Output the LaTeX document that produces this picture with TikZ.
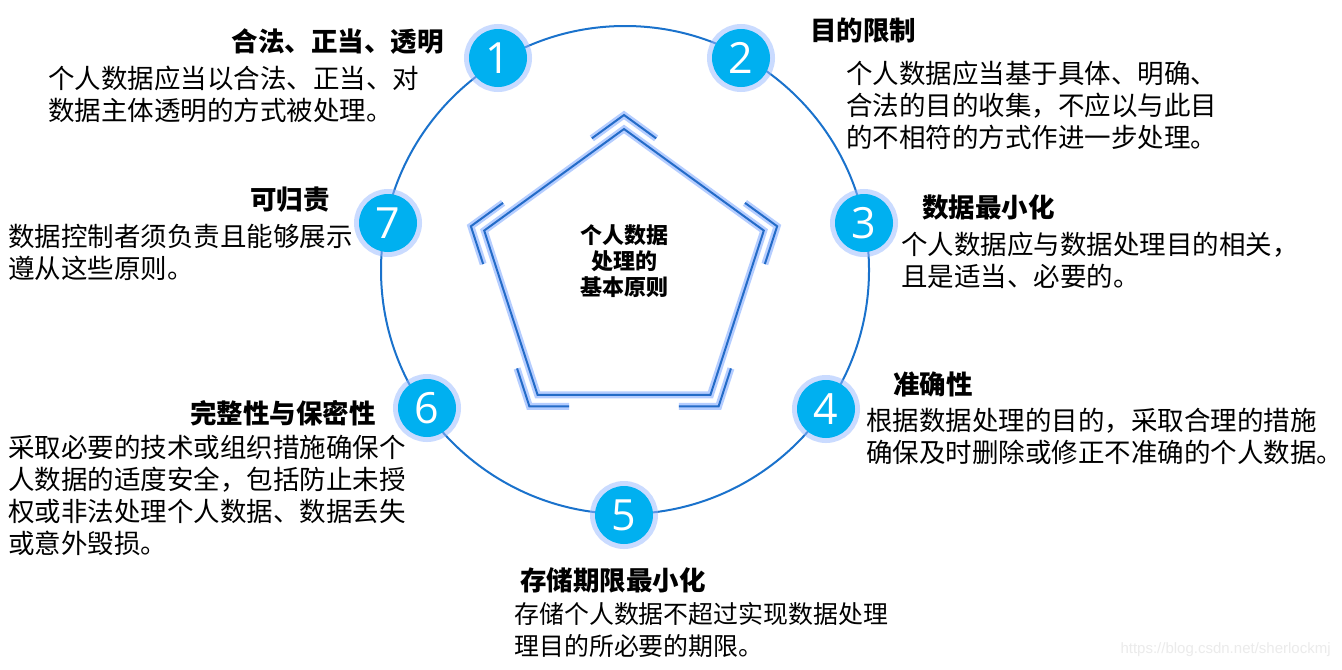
\documentclass[tikz,border=0pt]{standalone}
\usepackage{fontspec}
\setmainfont{Noto Sans CJK SC}
\newfontfamily\numfont{Open Sans}
\newfontfamily\urlfont{Liberation Sans}
\usepackage{xcolor}
\usetikzlibrary{calc}

\definecolor{RingBlue}{RGB}{26,114,204}
\definecolor{DotCyan}{RGB}{0,176,240}
\definecolor{GlowBlue}{RGB}{150,185,255}
\definecolor{PentBlue}{RGB}{36,108,200}

\begin{document}
\begin{tikzpicture}[x=0.5pt, y=-0.5pt,
    numdot/.style={circle, fill=DotCyan, minimum size=29pt, inner sep=0pt,
      text=white, font=\numfont\fontsize{21.5}{21.5}\selectfont,
      preaction={draw=GlowBlue, line width=5pt, draw opacity=0.5}},
    ttl/.style={inner sep=0pt, font=\bfseries\fontsize{13.25}{16}\selectfont},
    body/.style={inner sep=0pt, align=left, font=\fontsize{13.25}{16}\selectfont},
    pent/.style={draw=PentBlue, line width=1pt, line join=miter,
      preaction={draw=GlowBlue, line width=3.5pt, draw opacity=0.7}}]
    \fill [white] (0, 0) rectangle (1342, 669);
    \useasboundingbox (0, 0) rectangle (1342, 669);

    \begin{scope} % ring
      \draw [RingBlue, line width=1pt] (625, 270) circle (244);
    \end{scope}

    \begin{scope}[shift={(624, 276)}] % pentagon with corner brackets
      \draw [pent] (-90:147) -- (-18:147) -- (54:147) -- (126:147) -- (198:147) -- cycle;
      \foreach \a in {-90, -18, 54, 126, 198} {
        \draw [pent] ($(\a-72:161)!0.79!(\a:161)$) -- (\a:161)
          -- ($(\a:161)!0.21!(\a+72:161)$);
      }
      \node [align=center, inner sep=0pt, font=\bfseries\fontsize{11}{13}\selectfont]
        (core) at (0, -15) {个人数据\\处理的\\基本原则};
    \end{scope}

    \begin{scope} % numbered dots
      \node [numdot] (n1) at (498, 58) {1};
      \node [numdot] (n2) at (741, 58) {2};
      \node [numdot] (n3) at (864, 223) {3};
      \node [numdot] (n4) at (826, 409) {4};
      \node [numdot] (n5) at (624, 515) {5};
      \node [numdot] (n6) at (427, 408) {6};
      \node [numdot] (n7) at (388, 223) {7};
    \end{scope}

    \begin{scope} % principles
      \node [ttl, anchor=east] (t1) at (444, 42) {合法、正当、透明};
      \node [body, anchor=west] (b1) at (48, 94.5)
        {个人数据应当以合法、正当、对\\数据主体透明的方式被处理。};

      \node [ttl, anchor=west] (t2) at (810, 30) {目的限制};
      \node [body, anchor=west] (b2) at (846, 105.5)
        {个人数据应当基于具体、明确、\\合法的目的收集，不应以与此目\\的不相符的方式作进一步处理。};

      \node [ttl, anchor=west] (t3) at (922, 207) {数据最小化};
      \node [body, anchor=west] (b3) at (901, 260)
        {个人数据应与数据处理目的相关，\\且是适当、必要的。};

      \node [ttl, anchor=west] (t4) at (893, 384) {准确性};
      \node [body, anchor=west] (b4) at (866, 436)
        {根据数据处理的目的，采取合理的措施\\确保及时删除或修正不准确的个人数据。};

      \node [ttl, anchor=west] (t5) at (520, 580) {存储期限最小化};
      \node [body, anchor=west, font=\fontsize{12.45}{16}\selectfont] (b5) at (514, 630)
        {存储个人数据不超过实现数据处理\\理目的所必要的期限。};

      \node [ttl, anchor=east] (t6) at (376, 413) {完整性与保密性};
      \node [body, anchor=west] (b6) at (8, 495)
        {采取必要的技术或组织措施确保个\\人数据的适度安全，包括防止未授\\权或非法处理个人数据、数据丢失\\或意外毁损。};

      \node [ttl, anchor=west] (t7) at (250, 200) {可归责};
      \node [body, anchor=west] (b7) at (8, 252.5)
        {数据控制者须负责且能够展示\\遵从这些原则。};
    \end{scope}

    \node [anchor=east, inner sep=0pt, text=black!8,
      font=\urlfont\fontsize{7.5}{9}\selectfont] (mark) at (1331, 650)
      {https://blog.csdn.net/sherlockmj};
\end{tikzpicture}
\end{document}
